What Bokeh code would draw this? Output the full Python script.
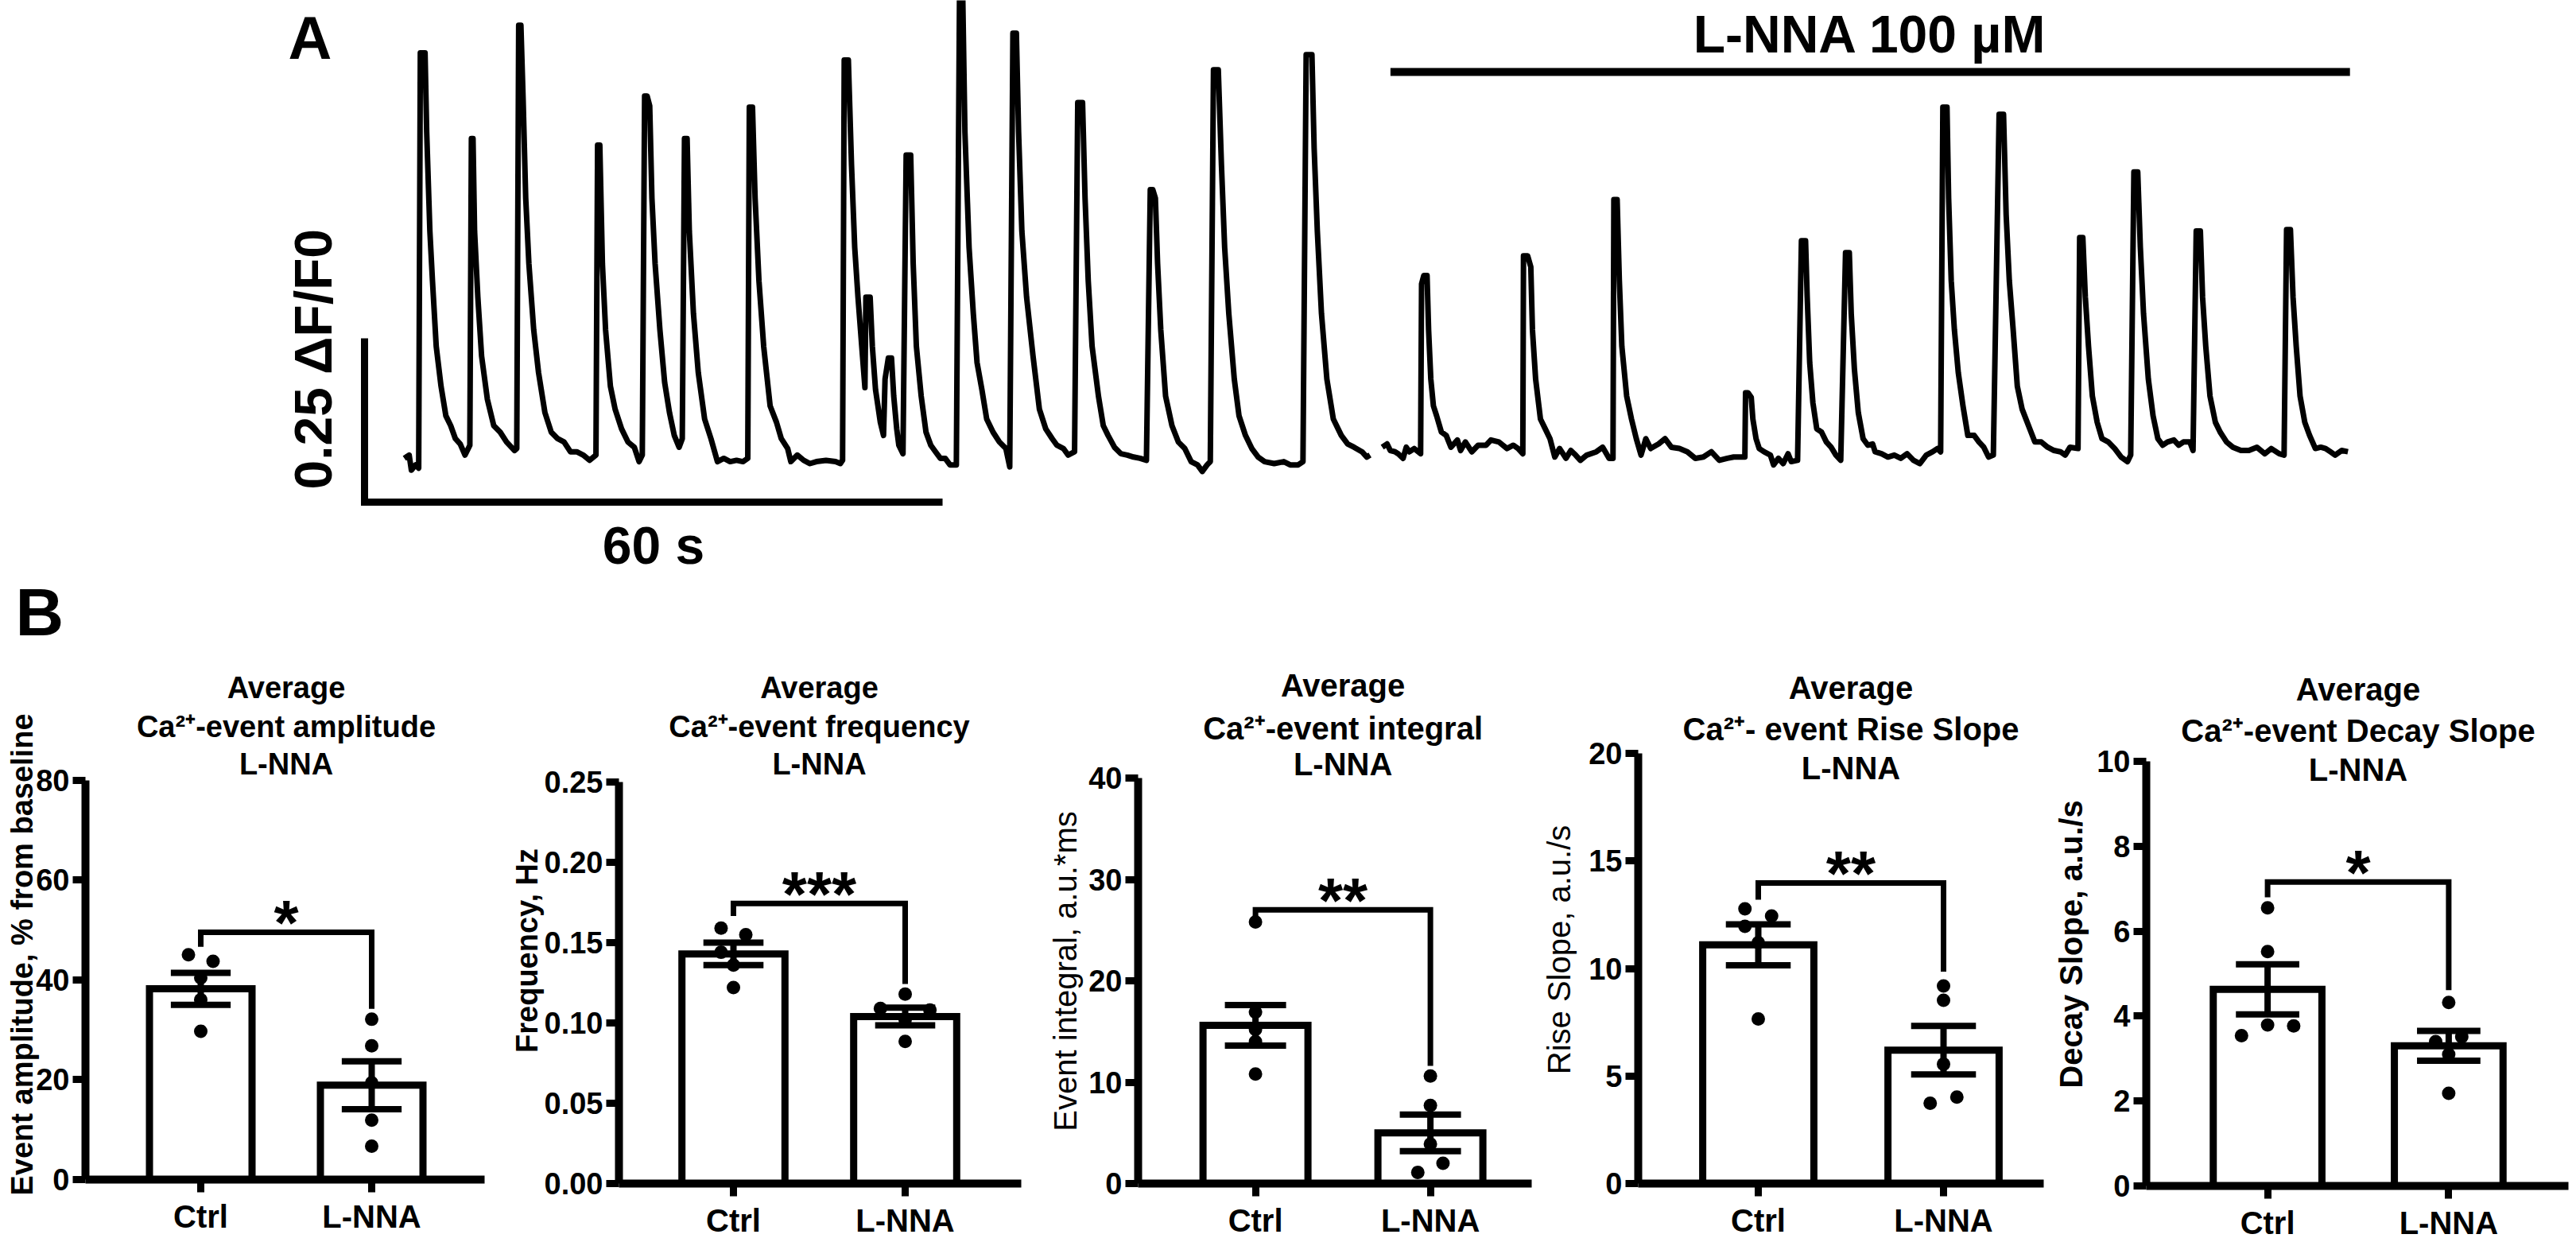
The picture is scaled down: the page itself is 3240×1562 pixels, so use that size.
from bokeh.plotting import figure
from bokeh.models import Range1d, FixedTicker, Label, NumeralTickFormatter
from bokeh.layouts import row, column
from bokeh.embed import file_html
from bokeh.resources import INLINE
from bokeh.core.properties import value

FONT = "Liberation Sans"

# ------------------------------------------------------------------
# Panel A data : Ca2+ trace (time in s, dF/F0)
# ------------------------------------------------------------------
ctrl_trace = [
    (-0.16, 0.011), (0.34, 0.016), (0.57, -0.007), (1.00, 0.001), (1.33, -0.004),
    (1.50, 0.630), (1.99, 0.630), (2.16, 0.509), (2.49, 0.358), (2.76, 0.282), (3.15, 0.182), (3.65, 0.121),
    (4.15, 0.076), (4.65, 0.061), (5.14, 0.041), (5.64, 0.033), (6.14, 0.016), (6.64, 0.031),
    (6.80, 0.499), (6.97, 0.499), (7.13, 0.358), (7.47, 0.257), (7.86, 0.167), (8.46, 0.101), (9.12, 0.061),
    (9.79, 0.051), (10.45, 0.036), (11.28, 0.023), (11.51, 0.026),
    (11.71, 0.672), (11.94, 0.672), (12.17, 0.559), (12.44, 0.408), (12.77, 0.308), (13.27, 0.207), (13.77, 0.142),
    (14.43, 0.081), (15.09, 0.051), (15.76, 0.041), (16.42, 0.036), (17.08, 0.021), (17.74, 0.021), (18.41, 0.016),
    (19.07, 0.008), (19.73, 0.016),
    (19.90, 0.489), (20.13, 0.489), (20.40, 0.308), (20.73, 0.207), (21.23, 0.121), (21.72, 0.086), (22.39, 0.056),
    (23.05, 0.036), (23.71, 0.028), (24.21, 0.006), (24.54, 0.016),
    (24.78, 0.564), (25.04, 0.564), (25.31, 0.549), (25.54, 0.408), (25.87, 0.308), (26.37, 0.207), (26.86, 0.127),
    (27.36, 0.081), (27.86, 0.046), (28.36, 0.028), (28.69, 0.041),
    (28.92, 0.499), (29.19, 0.499), (29.42, 0.358), (29.85, 0.232), (30.35, 0.142), (31.01, 0.071), (31.67, 0.041),
    (32.34, 0.006), (33.00, 0.011), (33.66, 0.006), (34.32, 0.008), (34.99, 0.006), (35.49, 0.011),
    (35.65, 0.547), (35.98, 0.547), (36.25, 0.408), (36.65, 0.282), (37.14, 0.182), (37.81, 0.091), (38.47, 0.066),
    (38.97, 0.041), (39.63, 0.026), (39.96, 0.006), (40.63, 0.016), (41.29, 0.008), (41.95, 0.003), (42.61, 0.006),
    (43.61, 0.008), (44.60, 0.006), (45.10, 0.003), (45.33, 0.008),
    (45.50, 0.619), (45.93, 0.619), (46.26, 0.458), (46.59, 0.333), (46.93, 0.257), (47.32, 0.182), (47.65, 0.119),
    (47.75, 0.257), (48.19, 0.257), (48.42, 0.182), (48.75, 0.116), (49.25, 0.066), (49.58, 0.046),
    (49.74, 0.132), (50.08, 0.164), (50.41, 0.164), (50.64, 0.106), (50.95, 0.056), (51.17, 0.031), (51.60, 0.018),
    (51.93, 0.474), (52.40, 0.474), (52.66, 0.308), (52.99, 0.182), (53.49, 0.106), (53.99, 0.051), (54.49, 0.031),
    (54.98, 0.021), (55.48, 0.011), (55.98, 0.011), (56.48, 0.001), (57.14, 0.001),
    (57.47, 0.720), (57.80, 0.720), (58.03, 0.509), (58.46, 0.333), (58.90, 0.232), (59.29, 0.157), (59.79, 0.116),
    (60.29, 0.071), (60.95, 0.051), (61.61, 0.036), (62.28, 0.026), (62.68, -0.002),
    (63.01, 0.660), (63.37, 0.660), (63.60, 0.509), (63.94, 0.358), (64.43, 0.257), (65.10, 0.167), (65.76, 0.086),
    (66.42, 0.056), (67.09, 0.041), (67.58, 0.031), (68.25, 0.026), (68.74, 0.016), (69.41, 0.021),
    (69.74, 0.554), (70.24, 0.554), (70.50, 0.408), (70.83, 0.282), (71.23, 0.182), (71.89, 0.106), (72.39, 0.061),
    (72.89, 0.046), (73.55, 0.028), (74.22, 0.018), (74.88, 0.016), (75.54, 0.013), (76.21, 0.011), (76.87, 0.008),
    (77.27, 0.421), (77.53, 0.421), (77.80, 0.408), (78.03, 0.308), (78.36, 0.207), (78.86, 0.106), (79.52, 0.061),
    (80.18, 0.036), (80.85, 0.026), (81.51, 0.006), (82.17, 0.001), (82.67, -0.009), (83.17, 0.001), (83.50, 0.006),
    (83.83, 0.604), (84.33, 0.604), (84.66, 0.458), (84.99, 0.333), (85.42, 0.232), (85.99, 0.132), (86.48, 0.076),
    (87.15, 0.046), (87.81, 0.026), (88.47, 0.013), (89.14, 0.006), (90.13, 0.003), (91.13, 0.006), (91.79, 0.001),
    (92.62, 0.001), (93.12, 0.006),
    (93.45, 0.627), (94.05, 0.627), (94.28, 0.484), (94.61, 0.358), (95.04, 0.232), (95.60, 0.132), (96.27, 0.071),
    (97.10, 0.046), (97.76, 0.033), (98.42, 0.028), (99.25, 0.021), (99.75, 0.013), (100.08, 0.016),
]

lnna_trace = [
    (101.35, 0.028), (101.85, 0.033), (102.18, 0.023), (102.68, 0.021), (103.01, 0.018), (103.51, 0.011),
    (103.84, 0.028), (104.17, 0.021), (104.67, 0.026), (105.33, 0.018),
    (105.43, 0.277), (105.66, 0.290), (106.00, 0.290), (106.16, 0.207), (106.39, 0.132), (106.66, 0.091),
    (106.99, 0.076), (107.49, 0.051), (107.99, 0.046), (108.48, 0.028), (109.15, 0.039), (109.48, 0.023),
    (109.98, 0.036), (110.64, 0.021), (111.30, 0.031), (112.13, 0.031), (112.63, 0.039), (113.46, 0.036),
    (114.29, 0.026), (114.95, 0.031), (115.45, 0.026), (115.94, 0.018),
    (116.01, 0.320), (116.44, 0.320), (116.77, 0.303), (116.94, 0.207), (117.27, 0.132), (117.77, 0.071),
    (118.27, 0.056), (118.76, 0.041), (119.26, 0.013), (119.76, 0.026), (120.42, 0.011), (120.92, 0.023),
    (121.42, 0.016), (121.91, 0.008), (122.58, 0.016), (123.57, 0.021), (124.23, 0.028), (124.90, 0.011),
    (125.30, 0.011),
    (125.39, 0.406), (125.73, 0.406), (125.96, 0.282), (126.22, 0.182), (126.72, 0.106), (127.22, 0.071),
    (127.72, 0.041), (128.21, 0.016), (128.71, 0.041), (129.21, 0.026), (130.04, 0.033), (130.70, 0.041),
    (131.36, 0.028), (132.19, 0.026), (133.02, 0.021), (133.85, 0.011), (134.68, 0.013), (135.51, 0.021),
    (136.34, 0.008), (137.17, 0.011), (137.83, 0.013), (138.49, 0.013), (138.99, 0.013),
    (139.06, 0.111), (139.32, 0.111), (139.65, 0.104), (139.82, 0.071), (140.15, 0.041), (140.48, 0.026),
    (140.98, 0.021), (141.64, 0.016), (141.97, 0.001), (142.47, 0.011), (142.97, 0.003), (143.47, 0.018),
    (143.80, 0.006), (144.46, 0.008),
    (144.86, 0.343), (145.29, 0.343), (145.46, 0.257), (145.72, 0.157), (146.05, 0.096), (146.45, 0.056),
    (146.95, 0.051), (147.45, 0.036), (147.94, 0.028), (148.44, 0.016), (148.94, 0.008),
    (149.44, 0.325), (149.83, 0.325), (150.03, 0.232), (150.36, 0.147), (150.76, 0.081), (151.26, 0.041),
    (151.76, 0.031), (152.25, 0.033), (152.51, 0.021), (153.18, 0.018), (153.84, 0.013), (154.50, 0.016),
    (155.17, 0.011), (155.83, 0.018), (156.49, 0.008), (157.16, 0.003), (157.82, 0.016), (158.48, 0.021),
    (158.98, 0.026), (159.31, 0.021),
    (159.54, 0.547), (159.97, 0.547), (160.14, 0.408), (160.41, 0.282), (160.74, 0.207), (161.14, 0.142),
    (161.63, 0.091), (162.13, 0.046), (162.79, 0.046), (163.29, 0.036), (163.79, 0.028), (164.29, 0.013),
    (164.78, 0.016),
    (165.38, 0.536), (165.84, 0.536), (166.11, 0.383), (166.44, 0.282), (166.84, 0.207), (167.27, 0.121),
    (167.77, 0.086), (168.43, 0.061), (169.09, 0.036), (169.76, 0.036), (170.42, 0.028), (171.08, 0.023),
    (171.75, 0.021), (172.24, 0.016), (172.74, 0.028), (173.57, 0.026),
    (173.74, 0.348), (174.07, 0.348), (174.33, 0.257), (174.66, 0.182), (175.06, 0.106), (175.56, 0.066),
    (176.06, 0.041), (176.72, 0.036), (177.38, 0.026), (178.05, 0.013), (178.71, 0.006), (179.04, 0.016),
    (179.37, 0.448), (179.77, 0.448), (180.04, 0.333), (180.37, 0.232), (180.87, 0.132), (181.36, 0.076),
    (181.86, 0.041), (182.36, 0.031), (182.86, 0.036), (183.52, 0.039), (184.02, 0.031), (184.51, 0.036),
    (185.18, 0.036), (185.51, 0.023),
    (185.84, 0.358), (186.27, 0.358), (186.50, 0.257), (186.83, 0.182), (187.27, 0.106), (187.83, 0.066),
    (188.33, 0.051), (188.99, 0.036), (189.65, 0.028), (190.48, 0.023), (191.31, 0.023), (192.14, 0.028),
    (192.97, 0.018), (193.63, 0.026), (194.46, 0.018), (194.96, 0.016),
    (195.22, 0.360), (195.62, 0.360), (195.89, 0.257), (196.22, 0.182), (196.62, 0.106), (197.11, 0.066),
    (197.61, 0.046), (198.21, 0.026), (198.77, 0.028), (199.27, 0.026), (199.77, 0.021), (200.26, 0.016),
    (200.93, 0.023), (201.59, 0.021),
]

scale_time_s = 60
scale_dff = 0.25
drug_start_s = 102.2
drug_end_s = 201.8
drug_text = "L-NNA 100 µM"
scale_time_text = "60 s"
scale_dff_text = "0.25 ΔF/F0"

# ------------------------------------------------------------------
# Panel B data
# ------------------------------------------------------------------
groups = ["Ctrl", "L-NNA"]

amp_mean = [38.2, 18.9]
amp_sem = [3.2, 4.8]
amp_ctrl = [45.0, 43.7, 40.4, 36.0, 29.7]
amp_lnna = [32.1, 26.8, 19.4, 11.9, 6.7]
amp_ticks = [0, 20, 40, 60, 80]
amp_bracket = [46.6, 49.5, 34.2]          # left end, top, right end
amp_sig = "*"

freq_mean = [0.143, 0.104]
freq_sem = [0.007, 0.0055]
freq_ctrl = [0.159, 0.155, 0.144, 0.136, 0.122]
freq_lnna = [0.118, 0.109, 0.108, 0.102, 0.0885]
freq_ticks = [0, 0.05, 0.10, 0.15, 0.20, 0.25]
freq_bracket = [0.1666, 0.1744, 0.1243]
freq_sig = "***"

int_mean = [15.6, 5.0]
int_sem = [2.0, 1.8]
int_ctrl = [25.8, 16.9, 15.2, 14.0, 10.8]
int_lnna = [10.6, 7.7, 3.9, 2.0, 1.1]
int_ticks = [0, 10, 20, 30, 40]
int_bracket = [26.4, 27.0, 11.6]
int_sig = "**"

rise_mean = [11.1, 6.2]
rise_sem = [0.95, 1.13]
rise_ctrl = [12.77, 12.44, 11.96, 11.2, 7.65]
rise_lnna = [9.19, 8.52, 5.55, 4.02, 3.73]
rise_ticks = [0, 5, 10, 15, 20]
rise_bracket = [13.2, 13.97, 9.85]
rise_sig = "**"

decay_mean = [4.63, 3.30]
decay_sem = [0.59, 0.35]
decay_ctrl = [6.55, 5.52, 3.54, 3.79, 3.77]
decay_lnna = [4.32, 3.40, 3.51, 3.10, 2.18]
decay_ticks = [0, 2, 4, 6, 8, 10]
decay_bracket = [6.8, 7.16, 4.61]
decay_sig = "*"

# ------------------------------------------------------------------
# Layout (page pixel geometry; the page has no margin)
# ------------------------------------------------------------------
PAGE_W = 3240
A_BOTTOM = 820
ROW_BOTTOM = 1562

PX_T0 = 510.0
PX_PER_S = 12.117
PY_V0 = 585.0
PX_PER_DFF = 824.0


def tx(px):
    return (px - PX_T0) / PX_PER_S


def vy(py):
    return (PY_V0 - py) / PX_PER_DFF


pa = figure(width=PAGE_W, height=A_BOTTOM,
            x_range=Range1d(tx(0), tx(PAGE_W)), y_range=Range1d(vy(A_BOTTOM), vy(0)),
            x_axis_type=None, y_axis_type=None, output_backend="svg", toolbar_location=None,
            min_border=0, outline_line_color=None)

for seg in (ctrl_trace, lnna_trace):
    pa.line([p[0] for p in seg], [p[1] for p in seg], line_color="black", line_width=7, line_join="round")

sb_t, sb_v = tx(458), vy(631)
pa.line([sb_t, sb_t, sb_t + scale_time_s], [sb_v + scale_dff, sb_v, sb_v],
        line_color="black", line_width=9, line_join="miter")
drug_v = vy(90)
pa.line([drug_start_s, drug_end_s], [drug_v, drug_v], line_color="black", line_width=10)


def a_label(text, x, y, size, align="center", angle=0):
    pa.add_layout(Label(x=x, y=y, text=text, text_font=FONT, text_font_style="bold",
                        text_font_size=size, text_color="black", text_align=align,
                        text_baseline="middle", angle=angle, angle_units="deg"))


a_label("A", tx(362), vy(47), "76px", align="left")
a_label(drug_text, (drug_start_s + drug_end_s) / 2, vy(42), "66px")
a_label(scale_time_text, sb_t + scale_time_s / 2, vy(685), "66px")
a_label(scale_dff_text, tx(393), vy(450), "66px", angle=90)
a_label("B", tx(19), vy(769), "84px", align="left")

# ------------------------------------------------------------------
# Panel B : five bar charts
# ------------------------------------------------------------------
charts = [
    dict(mean=amp_mean, sem=amp_sem, pts=[amp_ctrl, amp_lnna], ticks=amp_ticks, br=amp_bracket, sig=amp_sig,
         title=["Average", "Ca²⁺-event amplitude", "L-NNA"], ylabel="Event amplitude, % from baseline",
         fmt=None, fig=(0, 630), axx=(107, 609), cats=(252, 467), top=980.5, bottom=1483,
         ylab=(27, 1200), ybold=True, tc=(864, 913, 960), fs=38,
         jit=[[-1, 1, 0, 0, 0], [0, 0, 0, 0, 0]]),
    dict(mean=freq_mean, sem=freq_sem, pts=[freq_ctrl, freq_lnna], ticks=freq_ticks, br=freq_bracket, sig=freq_sig,
         title=["Average", "Ca²⁺-event frequency", "L-NNA"], ylabel="Frequency, Hz",
         fmt="0.00", fig=(630, 1300), axx=(778, 1284), cats=(922, 1138), top=983, bottom=1488,
         ylab=(662, 1195), ybold=True, tc=(864, 913, 960), fs=38,
         jit=[[-1, 1, -1, 0, 0], [0, -2, 2, 0, 0]]),
    dict(mean=int_mean, sem=int_sem, pts=[int_ctrl, int_lnna], ticks=int_ticks, br=int_bracket, sig=int_sig,
         title=["Average", "Ca²⁺-event integral", "L-NNA"], ylabel="Event integral, a.u.*ms",
         fmt=None, fig=(1300, 1935), axx=(1431, 1926), cats=(1578.6, 1798.6), top=978, bottom=1488,
         ylab=(1339, 1221), ybold=False, tc=(861, 915, 960), fs=40,
         jit=[[0, 0, 0, 0, 0], [0, 0, 0, 1, -1]]),
    dict(mean=rise_mean, sem=rise_sem, pts=[rise_ctrl, rise_lnna], ticks=rise_ticks, br=rise_bracket, sig=rise_sig,
         title=["Average", "Ca²⁺- event Rise Slope", "L-NNA"], ylabel="Rise Slope, a.u./s",
         fmt=None, fig=(1935, 2580), axx=(2060, 2570), cats=(2211, 2444), top=947, bottom=1488,
         ylab=(1960, 1194), ybold=False, tc=(864, 916, 965), fs=40,
         jit=[[-1, 1, -1, 0, 0], [0, 0, 0, 1, -1]]),
    dict(mean=decay_mean, sem=decay_sem, pts=[decay_ctrl, decay_lnna], ticks=decay_ticks, br=decay_bracket,
         sig=decay_sig, title=["Average", "Ca²⁺-event Decay Slope", "L-NNA"], ylabel="Decay Slope, a.u./s",
         fmt=None, fig=(2580, 3240), axx=(2699, 3230), cats=(2851.6, 3079.4), top=957, bottom=1491,
         ylab=(2604, 1187), ybold=True, tc=(866, 918, 967), fs=40,
         jit=[[0, 0, -2, 0, 2], [0, -1, 1, 0, 0]]),
]

BAR_W = 0.6
CAP_HALF = 0.175
JIT_STEP = 0.072

figs = []
for i, c in enumerate(charts):
    fig_l, fig_r = c["fig"]
    ax_l, ax_r = c["axx"]
    c1, c2 = c["cats"]
    ppx = float(c2 - c1)
    ymax = c["ticks"][-1]
    bottom = c["bottom"]
    ppu = (bottom - c["top"]) / ymax

    def dx(px, c1=c1, ppx=ppx):
        return 1 + (px - c1) / ppx

    def dy(py, bottom=bottom, ppu=ppu):
        return (bottom - py) / ppu

    p = figure(width=fig_r - fig_l, height=ROW_BOTTOM - A_BOTTOM,
               x_range=Range1d(dx(fig_l), dx(fig_r)), y_range=Range1d(dy(ROW_BOTTOM), dy(A_BOTTOM)),
               output_backend="svg", toolbar_location=None, min_border=0,
               outline_line_color=None, background_fill_color="white", border_fill_color="white")
    p.grid.visible = False

    for ax in (p.xaxis[0], p.yaxis[0]):
        ax.axis_line_width = 10
        ax.axis_line_color = "black"
        ax.major_tick_line_width = 9
        ax.major_tick_line_color = "black"
        ax.major_tick_in = 0
        ax.major_tick_out = 16
        ax.minor_tick_line_color = None
        ax.major_label_text_font = FONT
        ax.major_label_text_font_style = "bold"
        ax.major_label_text_color = "black"

    p.yaxis.fixed_location = dx(ax_l)
    p.yaxis.bounds = (0, ymax)
    p.yaxis.ticker = FixedTicker(ticks=c["ticks"])
    p.yaxis.major_label_standoff = 4
    p.yaxis.major_label_text_font_size = "38px"
    if c["fmt"]:
        p.yaxis.formatter = NumeralTickFormatter(format=c["fmt"])

    p.xaxis.fixed_location = 0
    p.xaxis.bounds = (dx(ax_l), dx(ax_r))
    p.xaxis.ticker = FixedTicker(ticks=[1, 2])
    p.xaxis.major_label_overrides = {1: groups[0], 2: groups[1]}
    p.xaxis.major_label_standoff = 8
    p.xaxis.major_label_text_font_size = "40px"

    xpos = [1, 2]
    p.vbar(x=xpos, top=c["mean"], bottom=0, width=BAR_W, fill_color="white",
           line_color="black", line_width=9, line_join="miter")
    for k in range(2):
        vals = c["pts"][k]
        xs_pts = [xpos[k] + j * JIT_STEP for j in c["jit"][k]]
        p.scatter(xs_pts, vals, size=17, fill_color="black", line_color=None)
    lo = [m - s for m, s in zip(c["mean"], c["sem"])]
    hi = [m + s for m, s in zip(c["mean"], c["sem"])]
    p.segment(x0=xpos, y0=lo, x1=xpos, y1=hi, line_color="black", line_width=8)
    for ends in (lo, hi):
        p.segment(x0=[x - CAP_HALF for x in xpos], y0=ends, x1=[x + CAP_HALF for x in xpos], y1=ends,
                  line_color="black", line_width=8)
    bl, bt, brt = c["br"]
    p.line([1, 1, 2, 2], [bl, bt, bt, brt], line_color="black", line_width=7, line_join="miter")
    p.text(x=[1.5], y=[bt + 12 / ppu], text=[c["sig"]], text_font=value(FONT), text_font_style="bold",
           text_font_size="80px", text_align="center", text_baseline="middle", text_color="black")

    for line, cy in zip(c["title"], c["tc"]):
        p.add_layout(Label(x=1.5, y=dy(cy), text=line, text_font=FONT, text_font_style="bold",
                           text_font_size=f"{c['fs']}px", text_align="center", text_baseline="middle",
                           text_color="black"))
    lx, ly = c["ylab"]
    p.add_layout(Label(x=dx(lx), y=dy(ly), text=c["ylabel"], text_font=FONT,
                       text_font_style="bold" if c["ybold"] else "normal",
                       text_font_size=f"{c['fs']}px", text_align="center", text_baseline="middle",
                       angle=90, angle_units="deg", text_color="black"))
    figs.append(p)

layout = column(pa, row(*figs, spacing=0), spacing=0)
open("out.html", "w").write(file_html(layout, INLINE))
